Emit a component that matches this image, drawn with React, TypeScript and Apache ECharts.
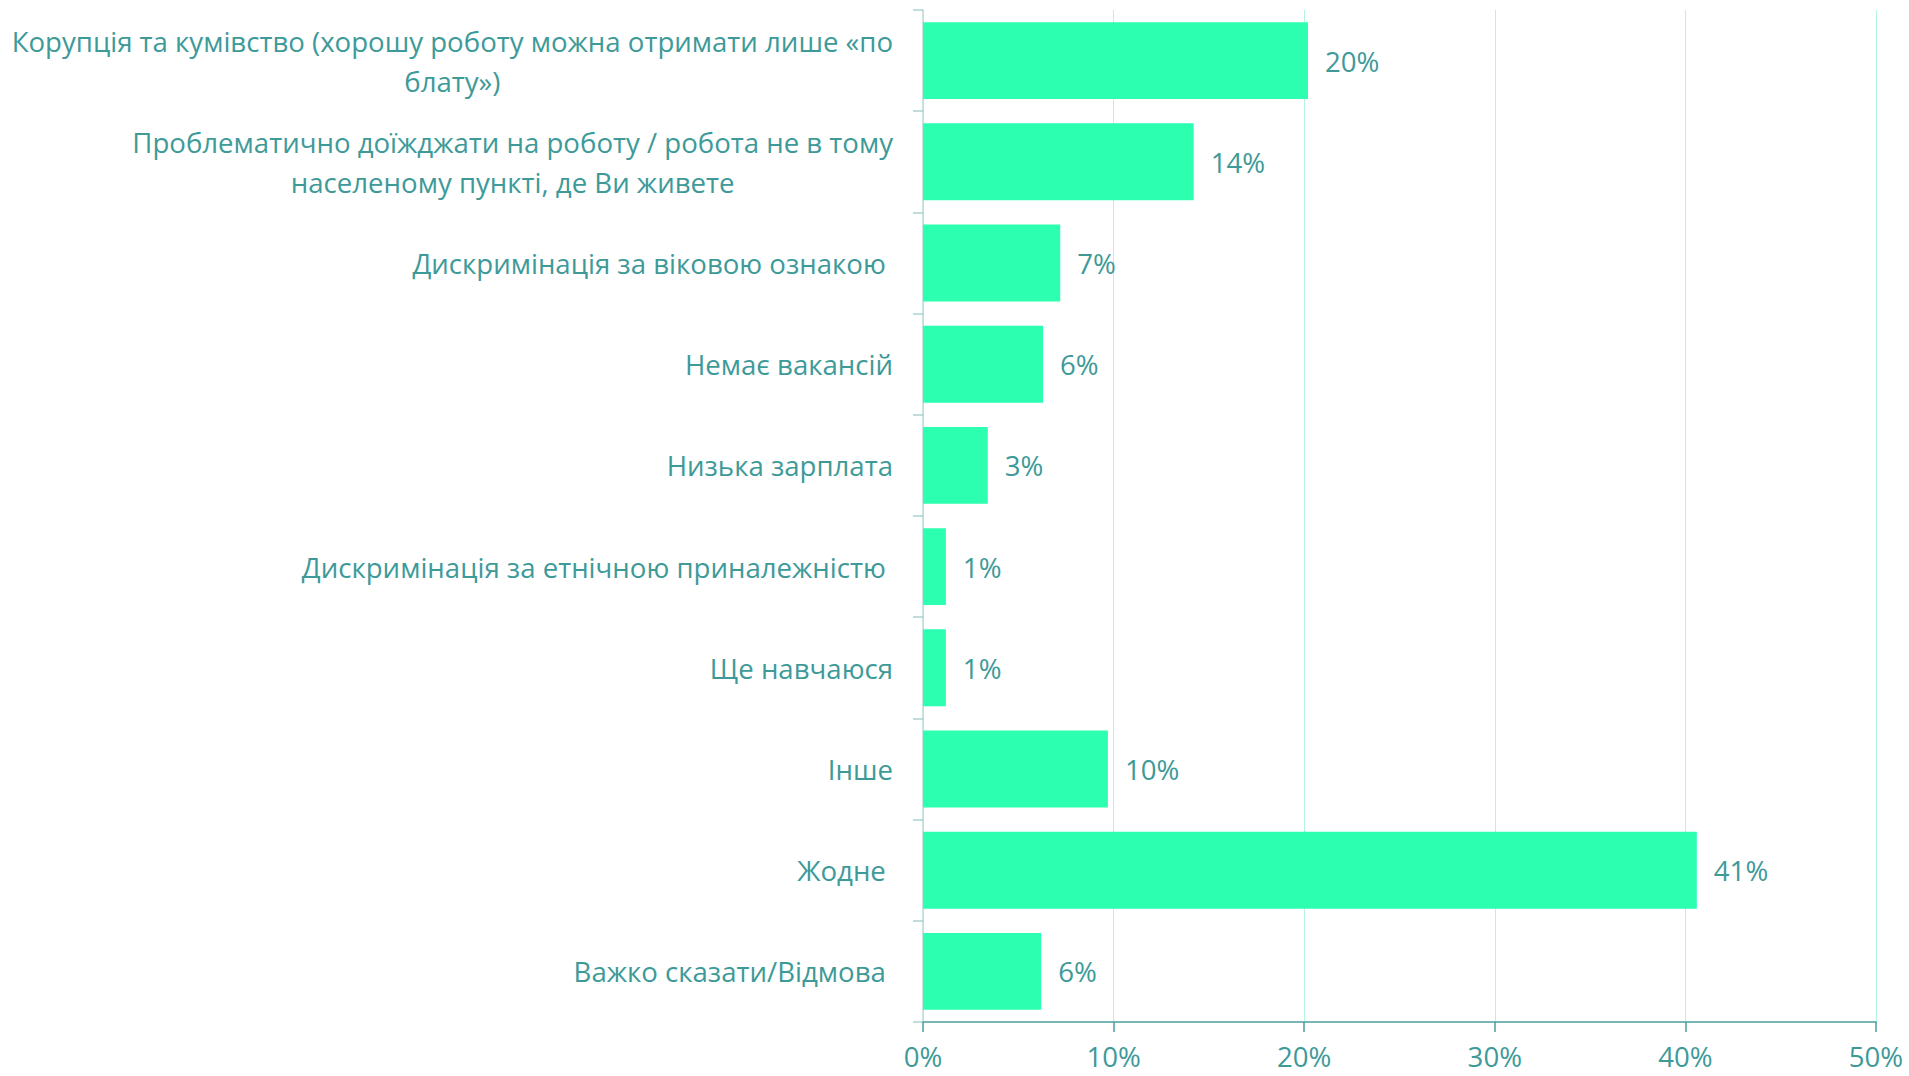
import React, { useEffect, useRef } from 'react';
import * as echarts from 'echarts';

const categories: string[] = [
  'Корупція та кумівство (хорошу роботу можна отримати лише «по\nблату»)',
  'Проблематично доїжджати на роботу / робота не в тому\nнаселеному пункті, де Ви живете',
  'Дискримінація за віковою ознакою\u00a0',
  'Немає вакансій',
  'Низька зарплата',
  'Дискримінація за етнічною приналежністю\u00a0',
  'Ще навчаюся',
  'Інше',
  'Жодне\u00a0',
  'Важко сказати/Відмова\u00a0',
];
const values: number[] = [20.2, 14.2, 7.2, 6.3, 3.4, 1.2, 1.2, 9.7, 40.6, 6.2];
const xMin = 0;
const xMax = 50;
const xStep = 10;

const TEXT = '#3D9A98';
const FONT = '"Open Sans", "Noto Sans", sans-serif';
const FS = 27.6;

export default function App() {
  const ref = useRef<HTMLDivElement>(null);
  useEffect(() => {
    if (!ref.current) return;
    const chart = echarts.init(ref.current, undefined, { renderer: 'svg' });
    chart.setOption({
      animation: false,
      backgroundColor: '#ffffff',
      textStyle: { fontFamily: FONT },
      grid: { left: 923, right: 33, top: 10, bottom: 54, outerBoundsMode: 'none' },
      xAxis: {
        type: 'value',
        min: xMin,
        max: xMax,
        interval: xStep,
        axisLine: { show: true, lineStyle: { color: '#4A9E9E', width: 1.5 } },
        axisTick: { show: true, length: 10, lineStyle: { color: '#4A9E9E', width: 1.5 } },
        splitLine: { show: true, lineStyle: { color: '#B6F4E1', width: 1 } },
        axisLabel: {
          formatter: '{value}%',
          color: TEXT,
          fontSize: FS,
          fontFamily: FONT,
          margin: 19,
          lineHeight: 30,
        },
      },
      yAxis: {
        type: 'category',
        data: categories,
        inverse: true,
        axisLine: { show: true, lineStyle: { color: '#B9DCDA', width: 1.5 } },
        axisTick: { show: true, length: 10, lineStyle: { color: '#A9D2D0', width: 1.5 } },
        splitLine: { show: false },
        axisLabel: {
          margin: 30,
          align: 'right',
          color: TEXT,
          fontSize: FS,
          fontFamily: FONT,
          formatter: (v: string) =>
            v
              .split('\n')
              .map((l) => `{c|${l}}`)
              .join('\n'),
          rich: {
            c: {
              align: 'center',
              color: TEXT,
              fontSize: FS,
              fontFamily: FONT,
              lineHeight: 40,
            },
          },
        },
      },
      series: [
        {
          type: 'bar',
          data: values,
          barCategoryGap: '24%',
          itemStyle: { color: '#2CFFB0' },
          label: {
            show: true,
            position: 'right',
            distance: 17,
            color: TEXT,
            fontSize: FS,
            fontFamily: FONT,
            formatter: (p: any) => `${Math.round(p.value)}%`,
          },
        },
      ],
    });
    return () => chart.dispose();
  }, []);
  return (
    <div
      ref={ref}
      style={{ position: 'fixed', left: 0, top: 0, width: '1909px', height: '1076px' }}
    />
  );
}
